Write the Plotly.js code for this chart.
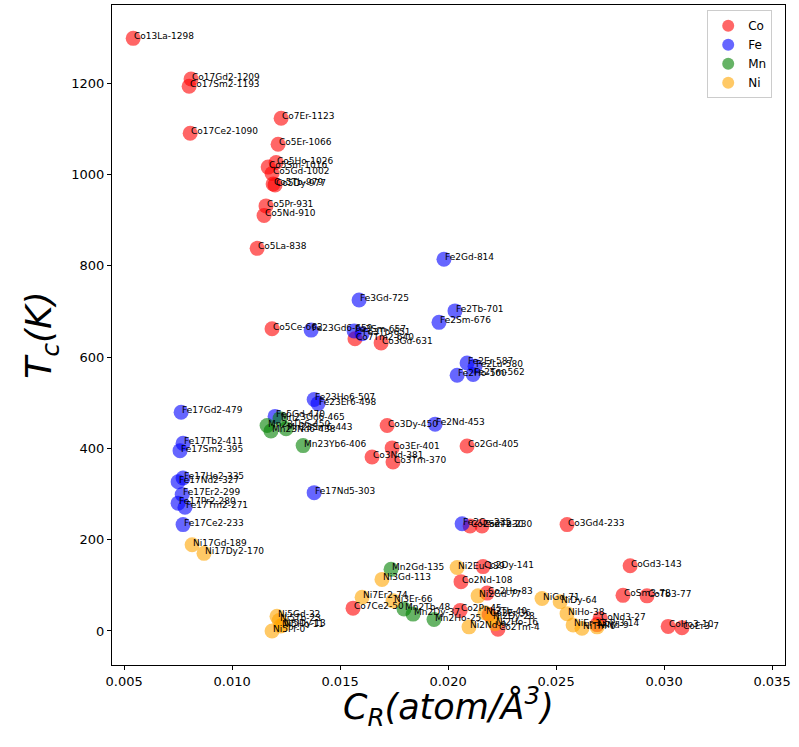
<!DOCTYPE html>
<html>
<head>
<meta charset="utf-8">
<script src="https://cdn.plot.ly/plotly-3.0.1.min.js"></script>
<style>
  html, body { margin: 0; padding: 0; background: #ffffff; }
  #chart { width: 799px; height: 747px; }
</style>
</head>
<body>
<div id="chart"></div>
<script>
// Curie temperature vs. rare-earth density for R–T intermetallics

// Co compounds
const coNames = ["Co13La", "Co17Gd2", "Co17Sm2", "Co17Ce2", "Co7Er", "Co5Er", "Co5Ho", "Co5Sm", "Co5Gd", "Co5Tb",
  "Co5Dy", "Co5Pr", "Co5Nd", "Co5La", "Co5Ce", "Co7Tm2", "Co3Gd", "Co3Dy", "Co3Er", "Co3Nd",
  "Co3Tm", "Co2Gd", "Co3Gd4", "Co2Sm", "Co2Tb", "Co2Dy", "Co2Nd", "Co2Ho", "Co2Pr", "Co2Er",
  "Co2Tm", "Co7Ce2", "CoGd3", "CoSm3", "CoTb3", "CoNd3", "CoPr3", "CoHo3", "CoEr3"];
const coCR = [0.00542, 0.00810, 0.00801, 0.00806, 0.01227, 0.01213, 0.01204, 0.01167, 0.01185, 0.01190,
  0.01199, 0.01157, 0.01148, 0.01116, 0.01185, 0.01569, 0.01690, 0.01718, 0.01741, 0.01648,
  0.01745, 0.02088, 0.02551, 0.02102, 0.02157, 0.02162, 0.02060, 0.02181, 0.02056, 0.02190,
  0.02231, 0.01560, 0.02843, 0.02810, 0.02921, 0.02704, 0.02690, 0.03019, 0.03083];
const coTc = [1298, 1209, 1193, 1090, 1123, 1066, 1026, 1016, 1002, 979,
  977, 931, 910, 838, 662, 640, 631, 450, 401, 381,
  370, 405, 233, 230, 230, 141, 108, 83, 45, 36,
  4, 50, 143, 78, 77, 27, 14, 10, 7];

// Fe compounds
const feNames = ["Fe2Gd", "Fe3Gd", "Fe2Tb", "Fe2Sm", "Fe23Gd6", "Fe3Sm", "Fe3Tb", "Fe2Er", "Fe2Lu", "Fe2Ho",
  "Fe2Tm", "Fe23Ho6", "Fe23Er6", "Fe17Gd2", "Fe5Gd", "Fe2Nd", "Fe17Tb2", "Fe17Sm2", "Fe17Ho2", "Fe17Nd2",
  "Fe17Er2", "Fe17Pr2", "Fe17Tm2", "Fe17Ce2", "Fe17Nd5", "Fe2Ce"];
const feCR = [0.01981, 0.01588, 0.02032, 0.01958, 0.01366, 0.01565, 0.01602, 0.02088, 0.02125, 0.02042,
  0.02116, 0.01380, 0.01398, 0.00764, 0.01199, 0.01940, 0.00773, 0.00759, 0.00773, 0.00750,
  0.00769, 0.00750, 0.00782, 0.00773, 0.01380, 0.02065];
const feTc = [814, 725, 701, 676, 659, 657, 651, 587, 580, 560,
  562, 507, 498, 479, 470, 453, 411, 395, 335, 327,
  299, 280, 271, 233, 303, 235];

// Mn compounds
const mnNames = ["Mn23Gd6", "Mn23Tb6", "Mn23Nd6", "Mn23Sm6", "Mn23Yb6", "Mn2Gd", "Mn2Tb", "Mn2Dy", "Mn2Ho"];
const mnCR = [0.01222, 0.01162, 0.01180, 0.01250, 0.01329, 0.01736, 0.01796, 0.01838, 0.01935];
const mnTc = [465, 450, 438, 443, 406, 135, 48, 37, 25];

// Ni compounds
const niNames = ["Ni17Gd", "Ni17Dy2", "Ni5Gd", "Ni5Tb", "Ni5Dy", "Ni5Ho", "Ni5Pr", "Ni3Gd", "Ni7Er2", "Ni3Er",
  "Ni2Eu", "Ni2Gd", "Ni2Tb", "Ni2Dy", "Ni2Ho", "Ni2Nd", "NiGd", "NiDy", "NiHo", "NiEr",
  "NiTm", "NiNd"];
const niCR = [0.00815, 0.00870, 0.01208, 0.01218, 0.01236, 0.01225, 0.01185, 0.01694, 0.01602, 0.01745,
  0.02042, 0.02139, 0.02171, 0.02204, 0.02218, 0.02097, 0.02435, 0.02519, 0.02551, 0.02579,
  0.02620, 0.02690];
const niTc = [189, 170, 32, 23, 13, 11, 0, 113, 74, 66,
  139, 77, 40, 28, 16, 9, 71, 64, 38, 13,
  6, 9];

const groups = [
  { name: "Co", names: coNames, x: coCR, y: coTc, color: "rgba(255,0,0,0.6)" },
  { name: "Fe", names: feNames, x: feCR, y: feTc, color: "rgba(0,0,255,0.6)" },
  { name: "Mn", names: mnNames, x: mnCR, y: mnTc, color: "rgba(0,128,0,0.6)" },
  { name: "Ni", names: niNames, x: niCR, y: niTc, color: "rgba(255,165,0,0.6)" }
];

const traces = groups.map(g => ({
  type: "scatter",
  mode: "markers",
  name: g.name,
  x: g.x,
  y: g.y,
  marker: { size: 15, color: g.color, line: { width: 0 } },
  hoverinfo: "x+y+name"
}));

// point labels: "<compound>-<Tc>", starting at the marker centre
const annotations = [];
groups.forEach(g => {
  g.names.forEach((n, i) => {
    annotations.push({
      x: g.x[i], y: g.y[i], xref: "x", yref: "y",
      text: n + "-" + g.y[i],
      showarrow: false,
      xanchor: "left", yanchor: "middle",
      xshift: -1, yshift: 2,
      font: { family: "DejaVu Sans", size: 9, color: "#000000" }
    });
  });
});

// x-axis title, set a little closer to the tick labels than the axis title slot allows
annotations.push({
  x: 0.5, y: -0.021, xref: "paper", yref: "paper",
  xanchor: "center", yanchor: "top", showarrow: false,
  text: "<i>C<sub>R</sub>(atom/Å<sup>3</sup>)</i>",
  font: { family: "DejaVu Sans", size: 35, color: "#000000" }
});

const axisCommon = {
  showline: true, mirror: true, linecolor: "#000000", linewidth: 1,
  ticks: "outside", ticklen: 4, tickwidth: 1, tickcolor: "#000000",
  showgrid: false, zeroline: false,
  tickfont: { family: "DejaVu Sans", size: 13, color: "#000000" }
};

const layout = {
  width: 799, height: 747,
  margin: { l: 112, r: 14, t: 5, b: 82 },
  paper_bgcolor: "#ffffff",
  plot_bgcolor: "#ffffff",
  font: { family: "DejaVu Sans", color: "#000000" },
  xaxis: Object.assign({}, axisCommon, {
    range: [0.00444, 0.0356],
    tickvals: [0.005, 0.010, 0.015, 0.020, 0.025, 0.030, 0.035],
    tickformat: ".3f"
  }),
  yaxis: Object.assign({}, axisCommon, {
    range: [-74.5, 1371],
    tickvals: [0, 200, 400, 600, 800, 1000, 1200],
    title: { text: "<i>T<sub>c</sub>(K)</i>",
             font: { family: "DejaVu Sans", size: 36, color: "#000000" }, standoff: 8 }
  }),
  legend: {
    x: 0.981, y: 0.992, xanchor: "right", yanchor: "top",
    bgcolor: "rgba(255,255,255,0.8)", bordercolor: "#cccccc", borderwidth: 1,
    font: { family: "DejaVu Sans", size: 12, color: "#000000" },
    itemsizing: "constant", tracegroupgap: 0
  },
  showlegend: true,
  annotations: annotations
};

Plotly.newPlot("chart", traces, layout, { displayModeBar: false, staticPlot: true });
</script>
</body>
</html>
